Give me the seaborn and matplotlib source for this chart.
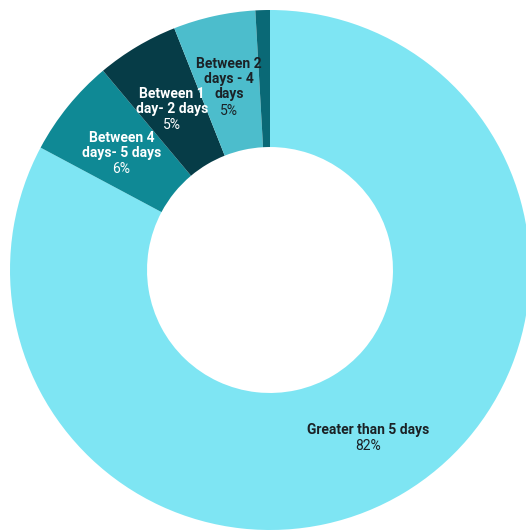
import numpy as np
import matplotlib
matplotlib.use("Agg")
import matplotlib.pyplot as plt
import seaborn as sns

# Data (clockwise from 12 o'clock)
categories = ["Greater than 5 days", "Between 4\ndays- 5 days", "Between 1\nday- 2 days",
              "Between 2\ndays - 4\ndays", "Other"]
values = [82.8, 6.1, 5.1, 5.1, 0.9]
pct_labels = ["82%", "6%", "5%", "5%", ""]
colors = ["#7EE5F3", "#0F8995", "#063C47", "#4CBDCC", "#0A6976"]
text_colors = ["#1b2226", "#ffffff", "#ffffff", "#1b2226", "#ffffff"]

sns.set_theme(style="white")
plt.rcParams['font.family'] = ['Roboto', 'DejaVu Sans']

fig = plt.figure(figsize=(5.26, 5.31), dpi=100)
ax = fig.add_axes([0, 0, 1, 1])
ax.axis("off")

R = 1.0
inner = 0.473
width = R - inner
# pie drawn clockwise from top
wedges, _ = ax.pie(values, colors=colors, startangle=90, counterclock=False,
                   radius=R, wedgeprops=dict(width=width, linewidth=0))

ax.set_xlim(-270 / 260, 256 / 260)
ax.set_ylim(-261 / 260, 270 / 260)
ax.set_aspect("equal")

rmid = inner + width / 2
h = 16 / 260  # line height in data units
shift = -4 / 260
total = sum(values)
cum = 0.0
for cat, v, pl, tc in zip(categories, values, pct_labels, text_colors):
    mid = cum + v / 2
    cum += v
    if not pl:
        continue
    ang = np.deg2rad(90 - mid / total * 360)
    cx, cy = rmid * np.cos(ang), rmid * np.sin(ang) + shift
    n = cat.count("\n") + 1
    ax.text(cx, cy + h / 2, cat, ha="center", va="center", fontsize=10,
            fontweight="bold", color=tc, linespacing=1.1)
    ax.text(cx, cy - h * n / 2, pl, ha="center", va="center", fontsize=10,
            color=tc)

fig.savefig("out.png", dpi=100)
